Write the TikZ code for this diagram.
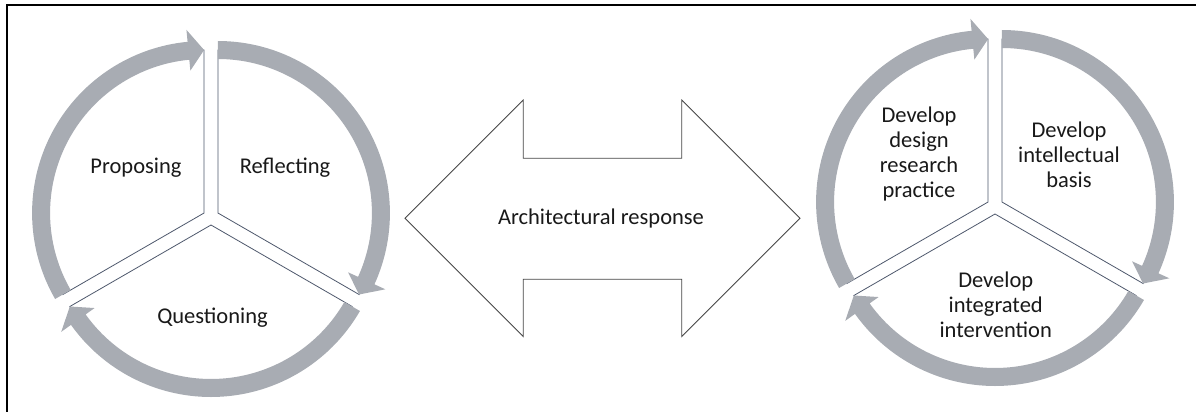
\documentclass[tikz,border=0pt]{standalone}
\usepackage{fontspec}
\setmainfont{Carlito}
\usetikzlibrary{calc}

\definecolor{cyclegray}{RGB}{168,172,179}
\definecolor{segline}{RGB}{78,88,108}
\definecolor{shapeline}{RGB}{70,70,70}
\definecolor{labeltext}{RGB}{25,25,25}

% ring geometry (pt): inner/outer band radius, sector radius, head radii, head length (deg)
\newcommand\RingIn{154}
\newcommand\RingOut{172}
\newcommand\RingMid{163}
\newcommand\HeadOut{184}
\newcommand\HeadIn{143}
\newcommand\HeadLen{5.5}

% \segsector{apex}{start angle}{end angle}
\newcommand\segsector[3]{%
  \draw[sector] (#1) -- ($(#1)+(#2:\RingMid)$)
    arc[start angle=#2, end angle=#3, radius=\RingMid] -- cycle;}

% \ringarrow{apex}{tail angle}{tip angle}, running clockwise
\newcommand\ringarrow[3]{%
  \begin{scope}[shift={(#1)}]
    \fill[ringfill] (#2:\RingOut)
      arc[start angle=#2, end angle={#3+\HeadLen}, radius=\RingOut]
      -- ({#3+\HeadLen}:\HeadOut) -- (#3:\RingMid) -- ({#3+\HeadLen}:\HeadIn)
      -- ({#3+\HeadLen}:\RingIn)
      arc[start angle={#3+\HeadLen}, end angle=#2, radius=\RingIn] -- cycle;
  \end{scope}}

\tikzset{
  sector/.style={draw=segline, line width=0.8pt, fill=white},
  ringfill/.style={fill=cyclegray},
  label/.style={text=labeltext, font=\fontsize{22.5}{25}\selectfont, align=center, inner sep=0pt},
  bigarrow/.style={draw=shapeline, line width=0.8pt, fill=white, line join=miter},
  frameline/.style={draw=black, line width=2pt}
}

\begin{document}
\begin{tikzpicture}[x=1pt,y=1pt]
  \useasboundingbox (0,0) rectangle (1196,-412);

  % frame edges along the top and the left
  \coordinate (fbl) at (7,-413);
  \coordinate (ftl) at (7,-4.8);
  \coordinate (ftr) at (1197,-4.8);
  \draw[frameline] (fbl) -- (ftl) -- (ftr);

  % ---------- left cycle ----------
  \coordinate (lc) at (211,-217);
  \coordinate (lp) at ($(lc)+(150:8)$);
  \coordinate (lr) at ($(lc)+(30:8)$);
  \coordinate (lq) at ($(lc)+(270:8)$);
  \segsector{lp}{90}{210}
  \segsector{lr}{-30}{90}
  \segsector{lq}{210}{330}
  \ringarrow{lp}{210}{90}
  \ringarrow{lr}{90}{-30}
  \ringarrow{lq}{-30}{-150}
  \node[label] (proposing) at (136,-168) {Proposing};
  \node[label] (reflecting) at (285,-168) {Reflecting};
  \node[label] (questioning) at (212.5,-318) {Questioning};

  % ---------- double-headed block arrow ----------
  \coordinate (dl) at (405,-218.3);
  \coordinate (dr) at (800,-218.3);
  \draw[bigarrow] (dl) -- (523.3,-100) -- (523.3,-158.3) -- (681.7,-158.3)
    -- (681.7,-100) -- (dr) -- (681.7,-336.6) -- (681.7,-279.3)
    -- (523.3,-279.3) -- (523.3,-336.6) -- cycle;
  \node[label] (response) at (601,-218) {Architectural response};

  % ---------- right cycle ----------
  \coordinate (rc) at (995,-206);
  \coordinate (rp) at ($(rc)+(150:8)$);
  \coordinate (rr) at ($(rc)+(30:8)$);
  \coordinate (rq) at ($(rc)+(270:8)$);
  \segsector{rp}{90}{210}
  \segsector{rr}{-30}{90}
  \segsector{rq}{210}{330}
  \ringarrow{rp}{210}{90}
  \ringarrow{rr}{90}{-30}
  \ringarrow{rq}{-30}{-150}
  \node[label] (practice) at (919,-154) {Develop\\design\\research\\practice};
  \node[label] (basis) at (1069,-155) {Develop\\intellectual\\basis};
  \node[label] (intervention) at (995.7,-305) {Develop\\integrated\\intervention};
\end{tikzpicture}
\end{document}
